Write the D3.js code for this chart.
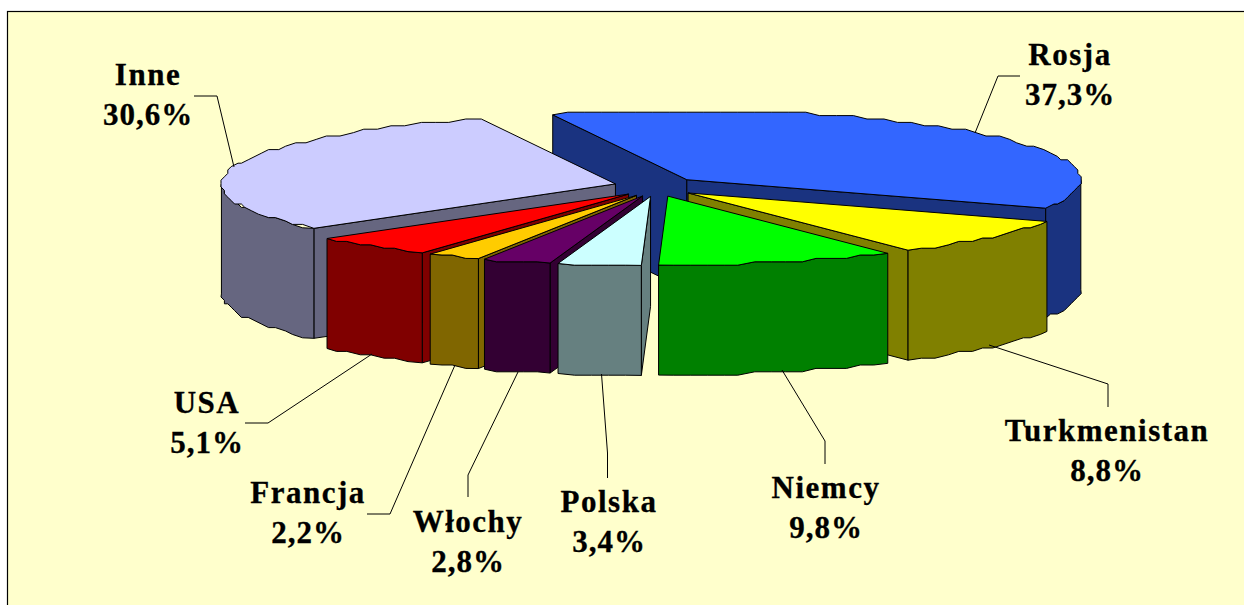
<!DOCTYPE html>
<html><head><meta charset="utf-8">
<script src="https://cdn.jsdelivr.net/npm/d3@7"></script>
<style>html,body{margin:0;padding:0;background:#fff}svg{display:block}</style>
</head><body><div id="c"></div>
<script>
// ---- data ----
const categories = ["Rosja","Turkmenistan","Niemcy","Polska","Włochy","Francja","USA","Inne"];
const shares     = [37.3, 8.8, 9.8, 3.4, 2.8, 2.2, 5.1, 30.6];
const shareTexts = ["37,3%","8,8%","9,8%","3,4%","2,8%","2,2%","5,1%","30,6%"];
const topColors  = ["#3366ff","#ffff00","#00ff00","#ccffff","#660066","#ffcc00","#ff0000","#ccccff"];
const sideColors = ["#1a3380","#808000","#008000","#668080","#330033","#806600","#800000","#666680"];

// ---- layout (not data) ----
const W = 1244, H = 605;
const frame = {x: 7.5, y: 11.5};
const pieBox = {cx: 656, cy: 186.5, rx: 394, ry: 69, depth: 110, explodeX: 42, explodeY: 10};
const startDeg = -19.9, grid = 3.4, sampleDeg = 2.5;
const labelCx   = [1070,1107,826,609,468,308,207,148];
const labelBase = [65,441,498,512,532,503,413,85];
const leaders = [
  [[975,133],[998,76],[1020,76]],
  [[989,345],[1108,384],[1108,407]],
  [[782,370],[825,441],[825,464]],
  [[601.5,374],[607.5,453],[607.5,478]],
  [[518,372],[468,475],[468,497]],
  [[455,365],[390,514],[367,514]],
  [[372,354],[268,423],[245,423]],
  [[234,167],[217,96],[194,96]]
];

const svg = d3.select("#c").append("svg").attr("width",W).attr("height",H);
svg.append("rect").attr("x",frame.x).attr("y",frame.y).attr("width",W+10).attr("height",H+10)
   .attr("fill","#ffffcc").attr("stroke","#000").attr("stroke-width",1.2);

const toRad = Math.PI/180;
const pie = d3.pie().sort(null).startAngle(startDeg*toRad).endAngle((startDeg+360)*toRad);
const arcs = pie(shares).map((a,i)=>({...a,i,mid:(a.startAngle+a.endAngle)/2}));

const X = d3.scaleLinear().domain([-1,1]).range([-pieBox.rx,pieBox.rx]);
const Y = d3.scaleLinear().domain([-1,1]).range([pieBox.ry,-pieBox.ry]);
const EX = d3.scaleLinear().domain([-1,1]).range([-pieBox.explodeX,pieBox.explodeX]);
const EY = d3.scaleLinear().domain([-1,1]).range([pieBox.explodeY,-pieBox.explodeY]);
const line = d3.line();
const q = v => Math.round(v/grid)*grid;

function apex(d){ return [pieBox.cx+EX(Math.sin(d.mid)), pieBox.cy+EY(Math.cos(d.mid))]; }
function rim(d,t){ const a=apex(d); return [a[0]+X(Math.sin(t)), a[1]+Y(Math.cos(t))]; }
function rimPts(d,t0,t1){
  const n=Math.max(2,Math.ceil((t1-t0)/(sampleDeg*toRad))), pts=[];
  for(let k=0;k<=n;k++){
    const t=t0+(t1-t0)*k/n, p=rim(d,t);
    pts.push((k===0||k===n)?p:[q(p[0]),q(p[1])]);
  }
  return pts;
}
const down = pts => pts.map(p=>[p[0],p[1]+pieBox.depth]);

const order = arcs.slice().sort((a,b)=>{
  const f=d=>Math.abs(((d.mid/toRad+360)%360)-180);
  return f(b)-f(a);
});

const strokeStyle = s => s.attr("stroke","#000").attr("stroke-width",1).attr("stroke-linejoin","round");
order.forEach(d=>{
  const g = svg.append("g"), a = apex(d);
  const side = pts => g.append("path").attr("d",line(pts)+"Z").attr("fill",sideColors[d.i]).call(strokeStyle);
  if(Math.sin(d.startAngle)<0){ const p=rim(d,d.startAngle); side([a,p,[p[0],p[1]+pieBox.depth],[a[0],a[1]+pieBox.depth]]); }
  if(Math.sin(d.endAngle)>0){ const p=rim(d,d.endAngle); side([a,p,[p[0],p[1]+pieBox.depth],[a[0],a[1]+pieBox.depth]]); }
  const t0=Math.max(d.startAngle,Math.PI/2), t1=Math.min(d.endAngle,Math.PI*1.5);
  if(t1>t0){ const r=rimPts(d,t0,t1); side(r.concat(down(r).reverse())); }
  g.append("path").attr("d",line([a].concat(rimPts(d,d.startAngle,d.endAngle)))+"Z")
    .attr("fill",topColors[d.i]).call(strokeStyle);
});

// leader lines
svg.append("g").selectAll("path").data(leaders).join("path")
  .attr("d",d=>line(d)).attr("fill","none").attr("stroke","#000").attr("stroke-width",1);

// labels
const lab = svg.append("g").attr("font-family","'Liberation Serif',serif").attr("font-weight","bold")
  .attr("font-size",31).attr("fill","#000").attr("stroke","#000").attr("stroke-width",0.3)
  .attr("text-anchor","middle").attr("letter-spacing","1.5px");
categories.forEach((c,i)=>{
  lab.append("text").attr("x",labelCx[i]).attr("y",labelBase[i]).text(c);
  lab.append("text").attr("x",labelCx[i]).attr("y",labelBase[i]+40).attr("letter-spacing","1px").text(shareTexts[i]);
});
</script></body></html>
